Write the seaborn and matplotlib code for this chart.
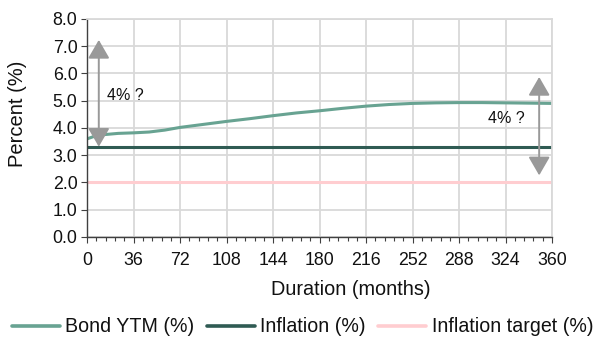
import matplotlib
matplotlib.use("Agg")
import matplotlib.pyplot as plt
import seaborn as sns
import pandas as pd
import numpy as np
from matplotlib.lines import Line2D

months = [0, 6, 12, 24, 36, 48, 60, 72, 90, 108, 126, 144, 162, 180, 198, 216,
          234, 252, 270, 288, 306, 324, 342, 360]
bond_ytm = [3.6, 3.7, 3.75, 3.8, 3.82, 3.85, 3.92, 4.02, 4.13, 4.24, 4.34, 4.45,
            4.55, 4.63, 4.72, 4.8, 4.86, 4.9, 4.92, 4.93, 4.93, 4.92, 4.91, 4.9]
inflation = [3.3] * len(months)
inflation_target = [2.0] * len(months)
series_names = ["Bond YTM (%)", "Inflation (%)", "Inflation target (%)"]
colors = ["#68a392", "#2f5b53", "#ffcdd0"]
x_ticks = [0, 36, 72, 108, 144, 180, 216, 252, 288, 324, 360]
y_ticks = [0, 1, 2, 3, 4, 5, 6, 7, 8]

df = pd.DataFrame({
    "Duration (months)": months * 3,
    "Percent (%)": bond_ytm + inflation + inflation_target,
    "series": [series_names[0]] * len(months) + [series_names[1]] * len(months)
              + [series_names[2]] * len(months),
})

sns.set_theme(style="white")
plt.rcParams["font.family"] = ["Liberation Sans", "DejaVu Sans"]

fig = plt.figure(figsize=(5.93, 3.38), dpi=100)
ax = fig.add_axes([0.147, 0.299, 0.784, 0.645])

sns.lineplot(data=df, x="Duration (months)", y="Percent (%)", hue="series",
             palette=dict(zip(series_names, colors)), linewidth=2.2, ax=ax,
             legend=False)

ax.set_xlim(0, 360)
ax.set_ylim(0, 8)
ax.set_xticks(x_ticks)
ax.set_xticks(np.arange(0, 361, 7.2), minor=True)
ax.set_yticks(y_ticks)
ax.set_yticklabels([f"{v:.1f}" for v in y_ticks])
ax.grid(True, color="#d9d9d9", linewidth=1.3)
ax.set_axisbelow(True)
for s in ["top", "right"]:
    ax.spines[s].set_color("#d9d9d9")
    ax.spines[s].set_linewidth(1.3)
for s in ["left", "bottom"]:
    ax.spines[s].set_color("#404040")
    ax.spines[s].set_linewidth(1.0)
ax.tick_params(axis="both", which="major", labelsize=12.8, length=4,
               direction="out", left=True, bottom=True, width=0.8,
               colors="#404040", labelcolor="#111111")
ax.tick_params(axis="y", which="major", pad=3)
ax.tick_params(axis="x", which="minor", length=3, direction="out", bottom=True,
               width=0.8, colors="#404040")
ax.tick_params(axis="x", which="major", pad=6.5)
ax.set_xlabel("Duration (months)", fontsize=14.3, color="#111111", va="center")
ax.xaxis.set_label_coords(0.568, -0.243)
ax.set_ylabel("Percent (%)", fontsize=14.5, color="#111111", va="center")
ax.yaxis.set_label_coords(-0.149, 0.566)

arrow_kw = dict(arrowstyle="<|-|>,head_length=0.95,head_width=0.55",
                color="#999999", lw=1.4, shrinkA=0, shrinkB=0)
ax.annotate("", xy=(9, 7.23), xytext=(9, 3.31), arrowprops=arrow_kw)
ax.annotate("", xy=(350, 5.87), xytext=(350, 2.26), arrowprops=arrow_kw)
ax.text(15.5, 5.2, "4% ?", fontsize=11.5, color="#111111", ha="left", va="center")
ax.text(339, 4.35, "4% ?", fontsize=11.5, color="#111111", ha="right", va="center")

handles = [Line2D([], [], color=c, lw=2.6) for c in colors]
fig.legend(handles, series_names, loc="center", ncol=3, frameon=False,
           fontsize=14.1, handlelength=2.45, handletextpad=0.26,
           columnspacing=0.66, borderpad=0, borderaxespad=0,
           bbox_to_anchor=(0.510, 1 - 327 / 338), labelcolor="#111111")

fig.savefig("out.png", dpi=100)
